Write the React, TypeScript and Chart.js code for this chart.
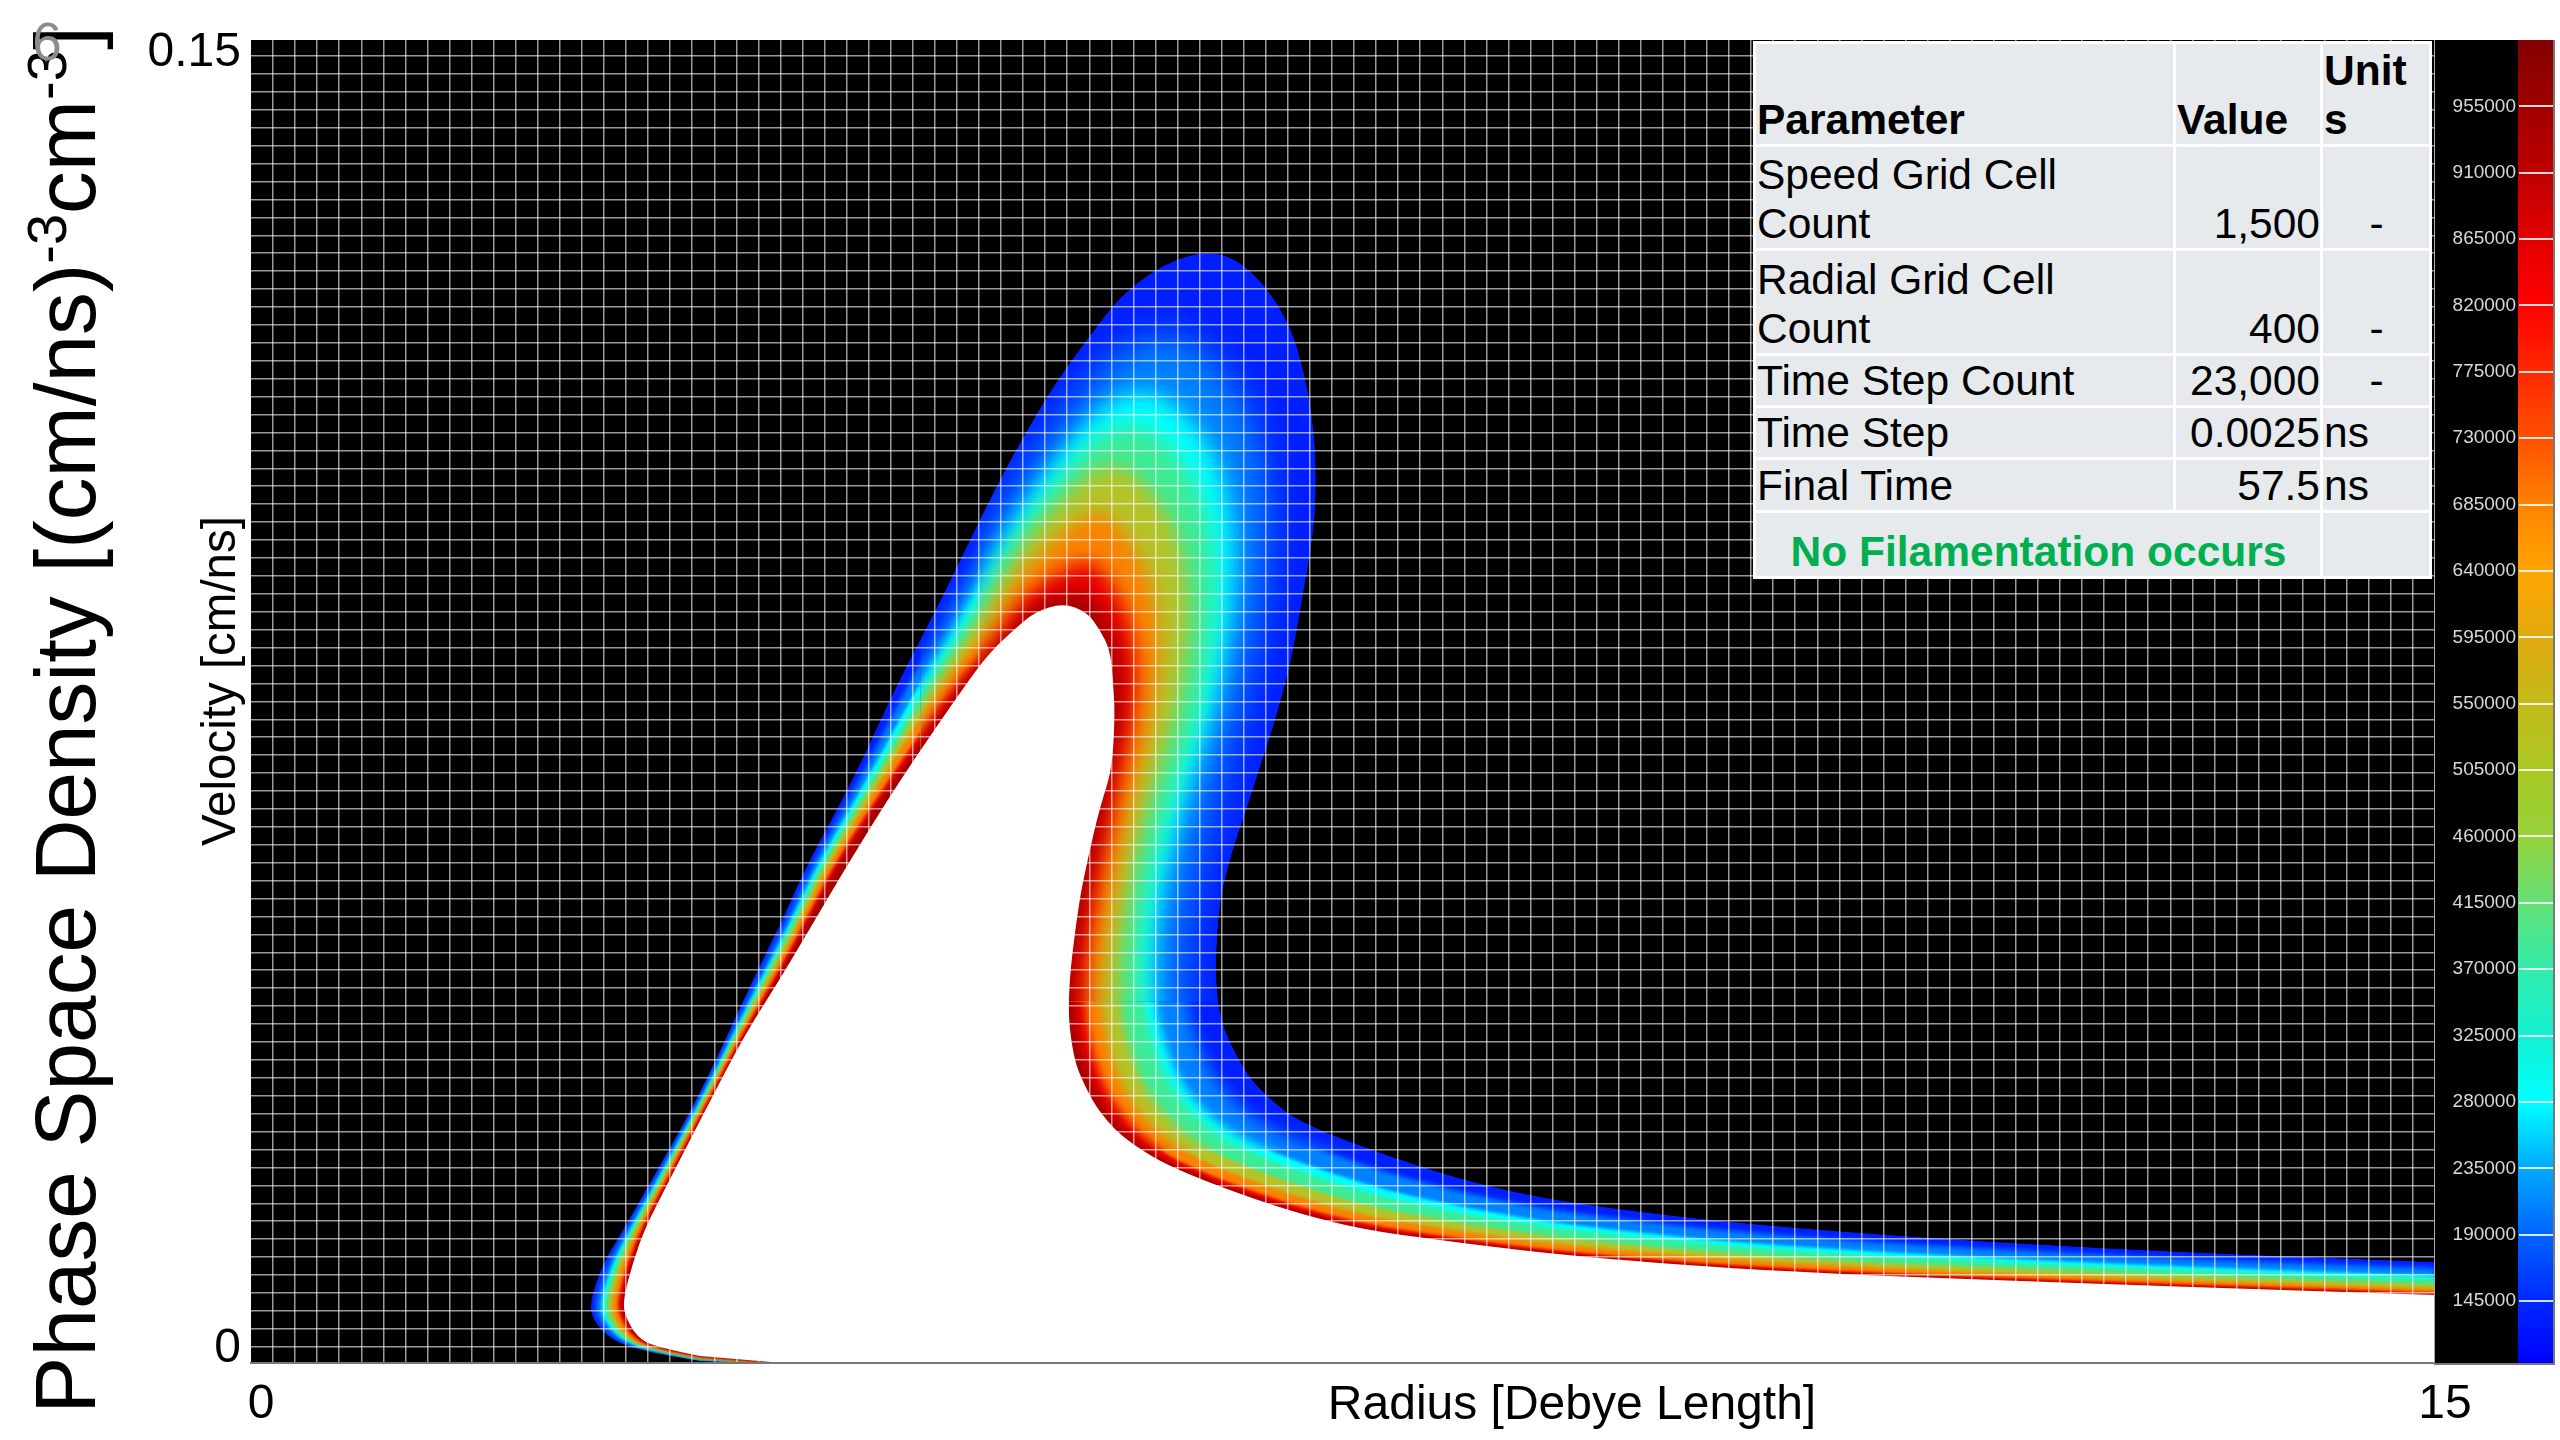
import React, { useEffect, useRef } from "react";
import { Chart, registerables } from "chart.js";

Chart.register(...registerables);

const FONT = '"Liberation Sans", Arial, sans-serif';

// Iso-density contours. Radius in Debye lengths, velocity in 1e-4 cm/ns.
const edgeRadius = [3.43,3.084,2.74,2.479,2.342,2.328,2.418,2.555,2.74,3.043,3.269,3.448,3.633,3.819,4.135,4.437,4.712,4.938,5.144,5.282,5.467,5.604,5.742,5.948,6.174,6.381,6.566,6.758,6.964,7.136,7.239,7.301,7.315,7.301,7.218,7.136,7.019,6.951,6.841,6.703,6.635,6.621,6.813,6.978,7.205,7.823,8.441,9.128,10.501,12.699,15,15];
const edgeVelocity = [0,2.3,11.3,24.9,48.8,71.4,113.4,150.8,204.1,292.5,370.8,435.4,496.6,565.8,661,769.9,856,933.1,1001.1,1043.1,1095.3,1129.3,1159.9,1205.2,1235.8,1252.9,1259.6,1252.9,1222.2,1176.9,1120.2,1057.8,1001.2,944.5,865.1,789.1,721.1,687.1,630.4,562.4,505.7,400.2,332.2,301.6,272.1,233.6,201.8,179.1,153.1,129.3,114.5,0];
const azureRadius = [3.47,3.084,2.746,2.507,2.378,2.364,2.451,2.579,2.76,3.058,3.288,3.476,3.664,3.855,4.182,4.513,4.797,5.179,5.604,5.984,6.415,6.843,6.985,6.989,6.818,6.599,6.425,6.407,6.585,6.773,7.04,7.741,8.415,9.128,10.501,12.699,15,15];
const azureVelocity = [0,3.2,12.4,25.6,49.5,71.4,113.6,151.2,204.1,292.5,370.8,435.4,496.6,565.8,661,769.9,849.8,975.1,1083.4,1154.9,1173.3,1095.3,998,904.6,748,630.4,508.2,402.6,328.1,291.4,260.8,218.2,189.3,167.9,143.6,121.8,107.4,0];
const cyanRadius = [3.5,3.084,2.751,2.534,2.415,2.401,2.484,2.603,2.78,3.074,3.306,3.503,3.695,3.891,4.229,4.589,4.872,5.21,5.604,5.938,6.286,6.633,6.751,6.759,6.636,6.397,6.224,6.194,6.357,6.568,6.859,7.65,8.383,9.128,10.501,12.699,15,15];
const cyanVelocity = [0,4.1,13.5,26.4,50.2,71.4,113.8,151.5,204.1,292.5,370.8,435.4,496.6,565.8,661,769.9,844.4,952.1,1042.9,1100.5,1101.8,1034,951.7,873.8,745.2,630.4,510.6,405,324.1,281.1,248.3,201.2,174.2,154.4,132.1,112.6,98.8,0];
const tealRadius = [3.52,3.084,2.755,2.551,2.437,2.423,2.505,2.618,2.792,3.083,3.318,3.52,3.714,3.914,4.259,4.636,4.922,5.231,5.604,5.907,6.211,6.509,6.614,6.624,6.534,6.306,6.129,6.113,6.271,6.49,6.777,7.609,8.37,9.128,10.501,12.699,15,15];
const tealVelocity = [0,4.7,14.2,26.8,50.7,71.4,113.9,151.8,204.1,292.5,370.8,435.4,496.6,565.8,661,769.9,840.8,936.8,1015.9,1064.2,1059.7,998,924.5,855.6,743.7,630.4,511.7,405.9,322.6,277.2,242.6,193.5,167.6,148.5,127.2,108.7,95.1,0];
const oliveRadius = [3.54,3.084,2.758,2.568,2.46,2.446,2.525,2.634,2.804,3.093,3.33,3.537,3.733,3.937,4.288,4.683,4.978,5.253,5.604,5.873,6.112,6.349,6.435,6.448,6.376,6.154,6.005,5.95,6.097,6.334,6.645,7.543,8.348,9.128,10.501,12.699,15,15];
const oliveVelocity = [0,5.2,14.8,27.3,51.1,71.4,114,152,204.1,292.5,370.8,435.4,496.6,565.8,661,769.9,836.8,920,986.3,1024.3,1005,951.1,889.1,832,741.3,630.4,513.2,407.7,319.5,269.4,233.5,181.2,157.1,139,119.2,102.3,89.1,0];
const amberRadius = [3.56,3.084,2.763,2.591,2.49,2.476,2.552,2.653,2.821,3.105,3.345,3.56,3.758,3.966,4.327,4.745,5.053,5.284,5.604,5.827,5.999,6.163,6.229,6.245,6.206,6.043,5.9,5.818,5.956,6.208,6.538,7.489,8.33,9.128,10.501,12.699,15,15];
const amberVelocity = [0,5.9,15.7,27.9,51.7,71.4,114.1,152.3,204.1,292.5,370.8,435.4,496.6,565.8,661,769.9,831.3,897.1,945.8,969.9,942,897,848.3,804.8,738.8,630.4,514.4,409.2,317,263.1,226.2,171.1,148.6,131.4,112.7,97.1,84.2,0];
const redRadius = [3.6,3.084,2.769,2.62,2.528,2.514,2.587,2.679,2.842,3.122,3.365,3.589,3.791,4.004,4.377,4.826,5.133,5.317,5.604,5.777,5.901,6.015,6.064,6.083,6.07,5.932,5.785,5.706,5.837,6.101,6.447,7.444,8.314,9.128,10.501,12.699,15,15];
const redVelocity = [0,6.9,16.9,28.7,52.5,71.4,114.3,152.7,204.1,292.5,370.8,435.4,496.6,565.8,661,769.9,825.5,872.6,902.6,911.8,887.3,853.8,815.6,783.1,736.7,630.4,515.8,410.5,314.8,257.7,219.9,162.7,140.7,124.3,106.7,92.4,79.7,0];
const darkRedRadius = [3.63,3.084,2.773,2.639,2.553,2.539,2.61,2.695,2.855,3.132,3.378,3.608,3.812,4.029,4.409,4.878,5.183,5.338,5.604,5.747,5.84,5.928,5.968,5.988,5.979,5.861,5.718,5.634,5.761,6.032,6.406,7.423,8.307,9.128,10.501,12.699,15,15];
const darkRedVelocity = [0,7.5,17.6,29.2,53,71.4,114.4,152.9,204.1,292.5,370.8,435.4,496.6,565.8,661,769.9,821.9,857.3,875.6,875.6,853.6,828.5,796.6,770.4,735.4,630.4,516.5,411.3,313.5,254.3,217.1,158.8,137.4,121.4,104.2,90.4,77.8,0];
const innerRadius = [3.654,3.084,2.775,2.651,2.569,2.555,2.624,2.706,2.864,3.139,3.386,3.634,3.853,4.1,4.457,4.911,5.076,5.261,5.385,5.577,5.742,5.831,5.9,5.92,5.934,5.913,5.831,5.749,5.68,5.604,5.645,5.728,5.831,6.003,6.381,7.411,8.304,9.128,10.501,12.699,15,15];
const innerVelocity = [0,7.9,18.1,29.5,53.3,71.4,114.5,153.1,204.1,292.5,370.8,435.4,496.6,565.8,661,769.9,806.1,834.5,851.5,861.7,851.5,831.1,808.4,774.4,734.7,672.3,630.4,573.7,517,411.6,346.9,312.9,283.5,252.8,215.4,156.5,136.1,120.2,103.2,89.6,77.1,0];

const contourNames = ["edge","azure","cyan","teal","olive","amber","red","dark red","unresolved core"];
const contourColors = ["rgb(0,30,255)","rgb(0,130,255)","rgb(0,255,250)","rgb(60,235,150)","rgb(180,195,40)","rgb(250,130,0)","rgb(235,0,0)","rgb(165,0,0)","#ffffff"];
const contourBlurFactors = [1, 2, 1.2, 1, 1, 1, 1, 1, 1];
const contourRadii = [edgeRadius,azureRadius,cyanRadius,tealRadius,oliveRadius,amberRadius,redRadius,darkRedRadius,innerRadius];
const contourVelocities = [edgeVelocity,azureVelocity,cyanVelocity,tealVelocity,oliveVelocity,amberVelocity,redVelocity,darkRedVelocity,innerVelocity];

// Colour scale
const colorbarValues = [103000,145000,190000,235000,280000,325000,370000,415000,460000,505000,550000,595000,640000,685000,730000,775000,820000,865000,910000,955000,1000000];
const colorbarColors = ["#0000ff","#0028ff","#0064ff","#00aaff","#00ffff","#14f0d2","#32ebaa","#64e178","#96d23c","#aac823","#c3b919","#e1aa0f","#ffa500","#ff8200","#ff5000","#ff2800","#ff0000","#e10000","#be0000","#a00000","#820000"];
const colorbarTicks = [145000,190000,235000,280000,325000,370000,415000,460000,505000,550000,595000,640000,685000,730000,775000,820000,865000,910000,955000];

// Table
const tableParameters = ["Speed Grid Cell Count","Radial Grid Cell Count","Time Step Count","Time Step","Final Time"];
const tableValues = ["1,500","400","23,000","0.0025","57.5"];
const tableUnits = ["-","-","-","ns","ns"];

// Blur tiers: [blur px, rMin, rMax, vMin, vMax] (thin arm and tail stay crisp, wide dome is smooth)
const blurTiers = [
  [1.4, 0, 15, 0, 0.15],
  [4, 4.6, 8, 0.0242, 0.15],
  [9, 5.0, 7.6, 0.041, 0.15],
];

const gridRadii = Array.from({ length: 100 }, (_, k) => (k * 15) / 99);
const gridVelocities = Array.from({ length: 73 }, (_, k) => 0.00185 + k * 0.0020324);
const GRID_COLOR = "rgba(255,255,255,0.6)";
const GRID_WIDTH = 1.5;

const contourPlugin = {
  id: "contourBands",
  beforeDatasetsDraw(chart: any) {
    const { ctx, chartArea: a, scales } = chart;
    const path = (i: number) => {
      const pts = chart.getDatasetMeta(i).data;
      ctx.beginPath();
      ctx.moveTo(pts[0].x, pts[0].y);
      ctx.lineTo(pts[1].x, pts[1].y);
      for (let k = 2; k < pts.length - 2; k++) {
        ctx.quadraticCurveTo(pts[k].x, pts[k].y, (pts[k].x + pts[k + 1].x) / 2, (pts[k].y + pts[k + 1].y) / 2);
      }
      ctx.lineTo(pts[pts.length - 2].x, pts[pts.length - 2].y);
      ctx.lineTo(pts[pts.length - 1].x, pts[pts.length - 1].y);
      ctx.closePath();
    };
    ctx.save();
    ctx.beginPath();
    ctx.rect(a.left, a.top, a.right - a.left, a.bottom - a.top);
    ctx.clip();
    ctx.fillStyle = "#000";
    ctx.fillRect(a.left, a.top, a.right - a.left, a.bottom - a.top);
    const last = contourColors.length - 1;
    for (const [blur, r0, r1, v0, v1] of blurTiers) {
      ctx.save();
      const x0 = scales.x.getPixelForValue(r0), x1 = scales.x.getPixelForValue(r1);
      const y0 = scales.y.getPixelForValue(v1), y1 = scales.y.getPixelForValue(v0);
      ctx.beginPath();
      ctx.rect(x0, y0, x1 - x0, y1 - y0);
      ctx.clip();
      path(0);
      ctx.clip();
      ctx.fillStyle = contourColors[0];
      path(0);
      ctx.fill();
      for (let i = 1; i < last; i++) {
        ctx.filter = `blur(${blur * contourBlurFactors[i]}px)`;
        ctx.fillStyle = contourColors[i];
        path(i);
        ctx.fill();
      }
      ctx.filter = "none";
      ctx.restore();
    }
    ctx.fillStyle = contourColors[last];
    path(last);
    ctx.fill();
    ctx.restore();
  },
};

const abs = (o: React.CSSProperties): React.CSSProperties => ({ position: "absolute", fontFamily: FONT, color: "#000", whiteSpace: "nowrap", ...o });

export default function App() {
  const mainRef = useRef<HTMLCanvasElement>(null);
  const barRef = useRef<HTMLCanvasElement>(null);

  useEffect(() => {
    const main = new Chart(mainRef.current!, {
      type: "scatter",
      data: {
        datasets: contourNames.map((name, i) => ({
          label: name,
          data: contourRadii[i].map((r, k) => ({ x: r, y: contourVelocities[i][k] * 1e-4 })),
          showLine: false,
          pointRadius: 0,
          pointHoverRadius: 0,
          backgroundColor: contourColors[i],
        })),
      },
      options: {
        animation: false,
        responsive: false,
        events: [],
        layout: { padding: { left: 0, top: 40, right: 125, bottom: 0 } },
        plugins: { legend: { display: false }, tooltip: { enabled: false } },
        scales: {
          x: {
            type: "linear",
            min: 0,
            max: 15,
            afterBuildTicks: (s: any) => { s.ticks = gridRadii.map((value) => ({ value })); },
            afterFit: (s: any) => { s.height = 77; },
            grid: { z: 1, color: (c: any) => (c.index === 0 ? "rgba(0,0,0,0)" : GRID_COLOR), lineWidth: GRID_WIDTH, drawTicks: false },
            border: { color: "#777", width: 2, z: 2 },
            ticks: {
              autoSkip: false,
              maxRotation: 0,
              labelOffset: 10,
              padding: 13,
              color: "#000",
              font: { family: FONT, size: 48 },
              callback: (_: any, i: number) => (i === 0 ? "0" : i === 99 ? "15" : ""),
            },
          },
          y: {
            type: "linear",
            position: "left",
            min: 0,
            max: 0.15,
            afterBuildTicks: (s: any) => { s.ticks = gridVelocities.map((value) => ({ value })); },
            afterFit: (s: any) => { s.width = 0; },
            grid: { z: 1, color: GRID_COLOR, lineWidth: GRID_WIDTH, drawTicks: false },
            border: { display: false },
            ticks: { display: false, autoSkip: false },
          },
          yLabel: {
            type: "linear",
            position: "left",
            min: -0.00162,
            max: 0.1515,
            afterBuildTicks: (s: any) => { s.ticks = [{ value: 0 }, { value: 0.15 }]; },
            afterFit: (s: any) => { s.width = 251; },
            grid: { display: false, drawTicks: false },
            border: { display: false },
            ticks: {
              padding: 10,
              color: "#000",
              font: { family: FONT, size: 48 },
              callback: (v: number) => (v === 0 ? "0" : "0.15"),
            },
          },
        },
      } as any,
      plugins: [contourPlugin],
    } as any);

    const lo = colorbarValues[0];
    const hi = colorbarValues[colorbarValues.length - 1];
    const bar = new Chart(barRef.current!, {
      type: "bar",
      data: {
        labels: ["density"],
        datasets: [{
          label: "Phase space density",
          data: [[lo, hi]],
          barPercentage: 1,
          categoryPercentage: 1,
          backgroundColor: (c: any) => {
            const area = c.chart.chartArea;
            if (!area) return colorbarColors[0];
            const g = c.chart.ctx.createLinearGradient(0, area.bottom, 0, area.top);
            colorbarValues.forEach((v, i) => g.addColorStop((v - lo) / (hi - lo), colorbarColors[i]));
            return g;
          },
        }],
      },
      options: {
        animation: false,
        responsive: false,
        events: [],
        plugins: { legend: { display: false }, tooltip: { enabled: false } },
        scales: {
          x: { display: false },
          y: {
            type: "linear",
            min: lo,
            max: hi,
            afterBuildTicks: (s: any) => { s.ticks = colorbarTicks.map((value) => ({ value })); },
            afterFit: (s: any) => { s.width = 84; s.paddingTop = 0; s.paddingBottom = 0; },
            grid: { z: 1, color: "rgba(255,255,255,0.85)", lineWidth: 2, drawTicks: false },
            border: { color: "#aaa", width: 2 },
            ticks: { autoSkip: false, padding: 2, color: "#d8d8d8", font: { family: FONT, size: 19 } , callback: (v: number) => String(v) },
          },
        },
      } as any,
    } as any);

    return () => { main.destroy(); bar.destroy(); };
  }, []);

  const cell: React.CSSProperties = { border: "3px solid #fff", padding: "0 0 0 1px", verticalAlign: "bottom", overflow: "hidden" };
  const rowHeights = [104, 105, 52, 52, 53];

  return (
    <div style={{ position: "absolute", left: 0, top: 0, width: 2560, height: 1440, background: "#fff", overflow: "hidden" }}>
      <canvas ref={mainRef} width={2560} height={1440} style={{ position: "absolute", left: 0, top: 0, width: 2560, height: 1440 }} />
      <div style={{ position: "absolute", left: 2434, top: 40, width: 119, height: 1323, background: "#000", borderRight: "2px solid #777", borderBottom: "2px solid #777" }}>
        <canvas ref={barRef} width={119} height={1323} style={{ display: "block", width: 119, height: 1323 }} />
      </div>

      <div style={abs({ left: 1572, top: 1403, transform: "translate(-50%,-50%)", fontSize: 48, lineHeight: "54px" })}>Radius [Debye Length]</div>
      <div style={abs({ left: 219, top: 681, transform: "translate(-50%,-50%) rotate(-90deg)", fontSize: 47.5, lineHeight: "52px" })}>Velocity [cm/ns]</div>
      <div style={abs({ left: 66, top: 720, transform: "translate(-50%,-50%) rotate(-90deg)", fontSize: 85.5, lineHeight: "96px" })}>
        Phase Space Density [(cm/ns)<sup style={{ fontSize: 56, lineHeight: 0 }}>-3</sup>cm<sup style={{ fontSize: 56, lineHeight: 0 }}>-3</sup>]
      </div>
      <div style={abs({ left: 47, top: 41, transform: "translate(-50%,-50%)", fontSize: 53, color: "#8c8c8c" })}>6</div>

      <table style={{ position: "absolute", left: 1753, top: 41, width: 676, height: 535, tableLayout: "fixed", borderCollapse: "collapse", background: "#e7eaed", fontFamily: FONT, fontSize: 42.5, lineHeight: "49px", color: "#000" }}>
        <colgroup><col style={{ width: 420 }} /><col style={{ width: 147 }} /><col style={{ width: 109 }} /></colgroup>
        <tbody>
          <tr style={{ height: 103, fontWeight: "bold" }}>
            <td style={cell}>Parameter</td>
            <td style={cell}>Value</td>
            <td style={cell}>Unit<br />s</td>
          </tr>
          {tableParameters.map((p, i) => (
            <tr key={p} style={{ height: rowHeights[i] }}>
              <td style={cell}>{p}</td>
              <td style={{ ...cell, textAlign: "right" }}>{tableValues[i]}</td>
              <td style={{ ...cell, textAlign: tableUnits[i] === "-" ? "center" : "left" }}>{tableUnits[i]}</td>
            </tr>
          ))}
          <tr style={{ height: 66 }}>
            <td colSpan={2} style={{ ...cell, textAlign: "center", fontWeight: "bold", color: "#00b050" }}>No Filamentation occurs</td>
            <td style={cell}></td>
          </tr>
        </tbody>
      </table>
    </div>
  );
}
